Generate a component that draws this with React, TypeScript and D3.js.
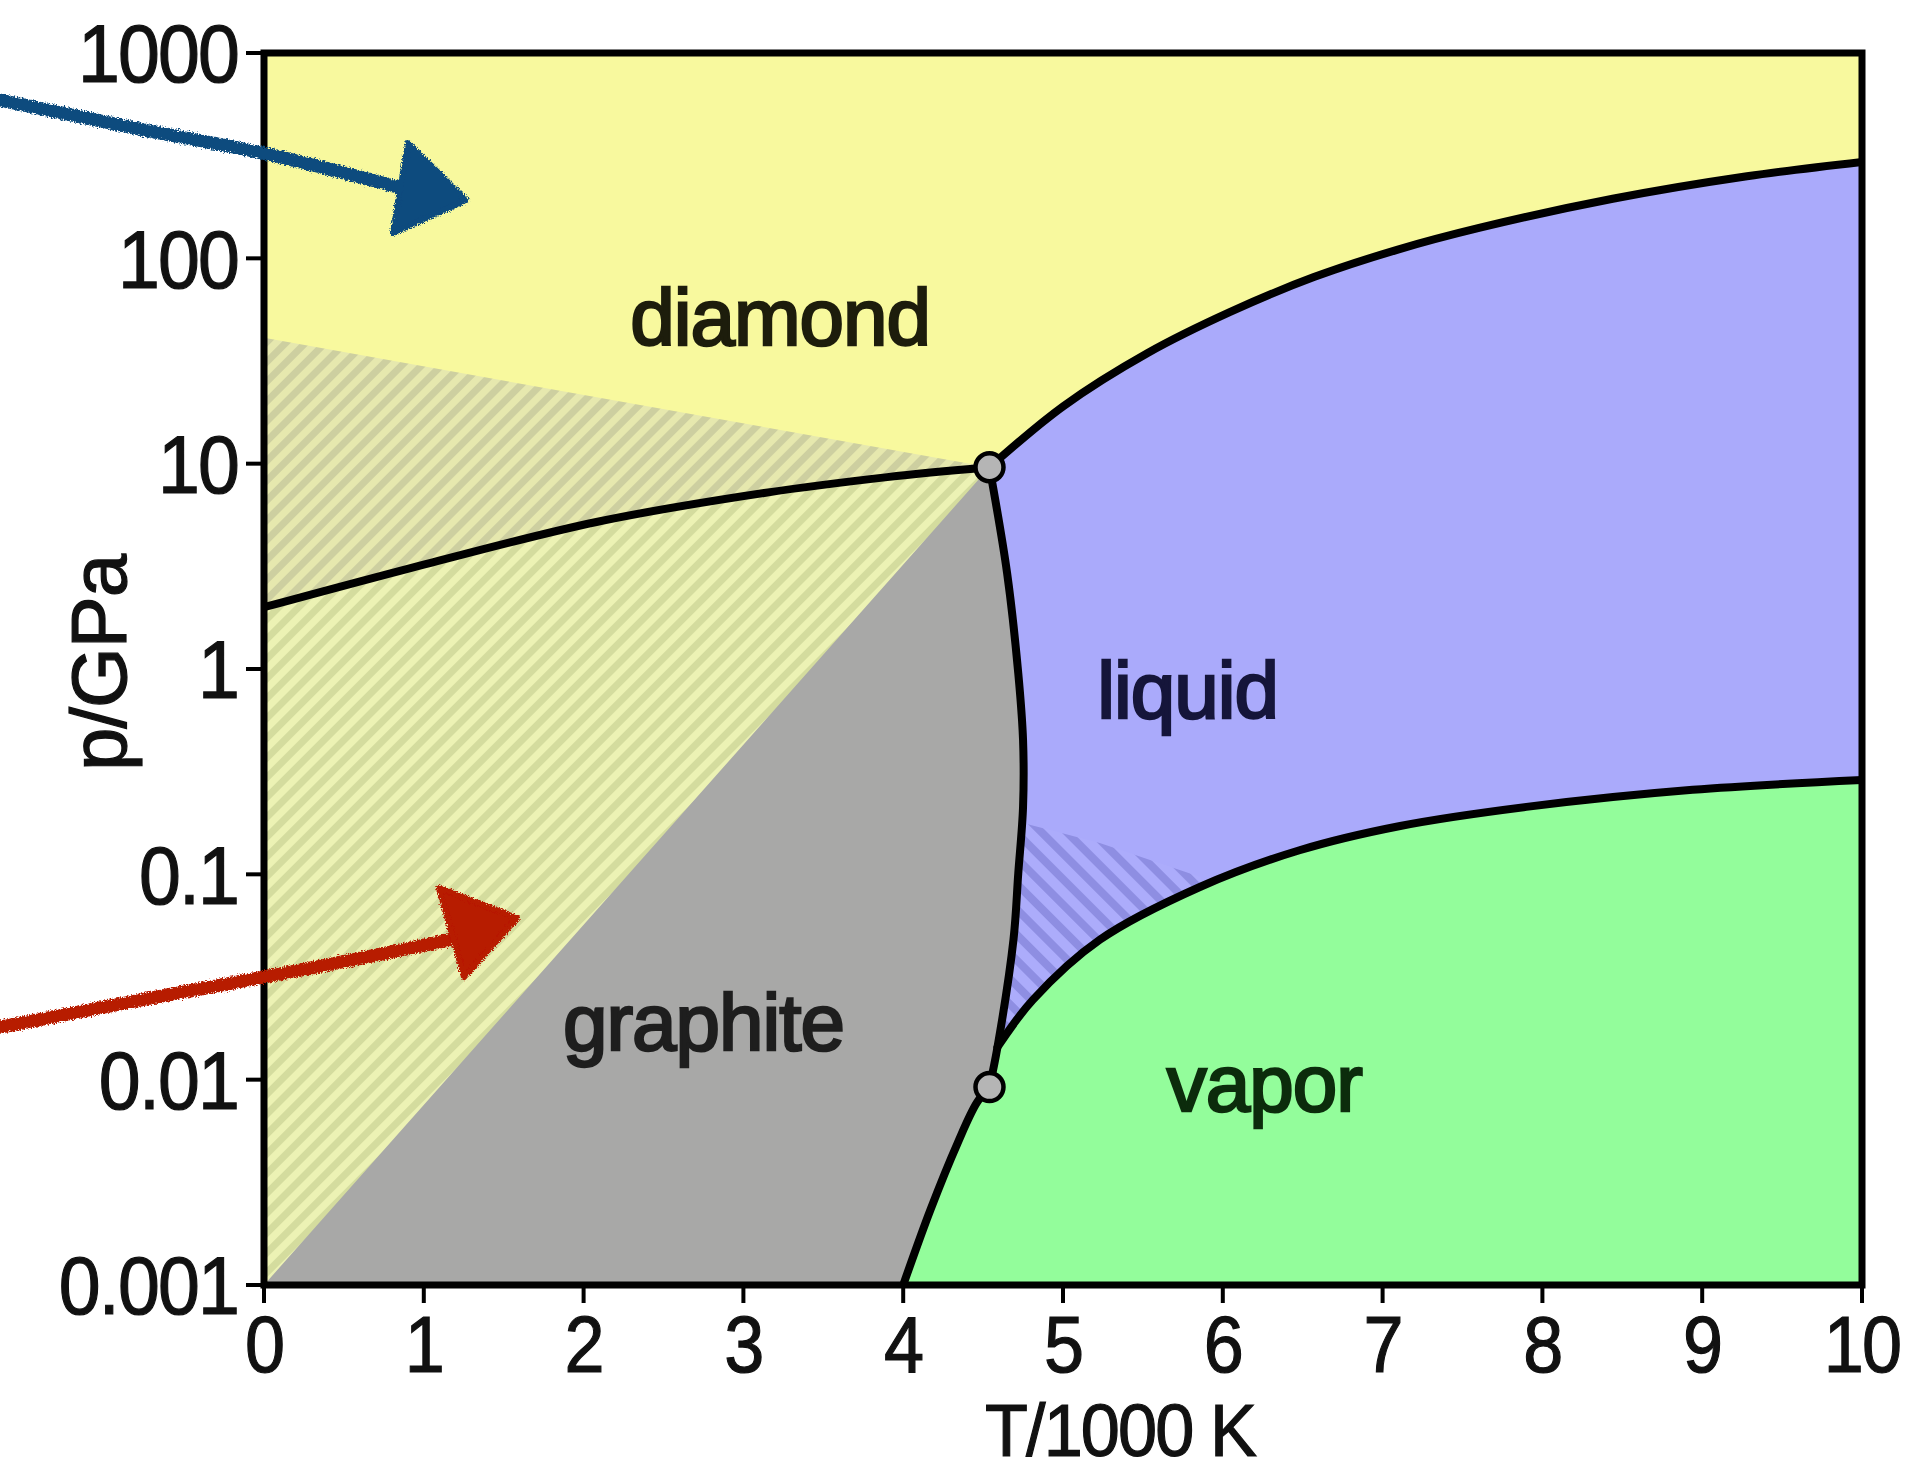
import React from 'react';
import * as d3 from 'd3';

type Pt = [number, number];

const W = 1925;
const H = 1473;
const margin = { top: 53, right: 63, bottom: 188, left: 264 };

// axes
const tempTicks = [0, 1, 2, 3, 4, 5, 6, 7, 8, 9, 10];
const pressureTicks = [1000, 100, 10, 1, 0.1, 0.01, 0.001];
const pressureLabels = ['1000', '100', '10', '1', '0.1', '0.01', '0.001'];

// phase boundaries, [T/1000 K, p/GPa]
const graphiteDiamond: Pt[] = [[0, 2.0], [1.05, 3.3], [2.08, 5.2], [3.13, 7.2], [3.9, 8.6], [4.54, 9.6]];
const diamondLiquid: Pt[] = [[4.54, 9.6], [5.0, 19], [5.53, 34.6], [6.05, 55], [6.57, 81], [7.09, 110], [7.61, 141], [8.44, 195], [9.28, 251], [10, 295]];
const graphiteLiquid: Pt[] = [[4.54, 0.0092], [4.59, 0.0144], [4.69, 0.048], [4.72, 0.101], [4.75, 0.213], [4.75, 0.45], [4.72, 0.955], [4.65, 2.94], [4.54, 9.6]];
const liquidVapor: Pt[] = [[4.59, 0.0144], [4.81, 0.0244], [5.23, 0.048], [5.86, 0.087], [6.48, 0.131], [7.11, 0.172], [7.9, 0.213], [8.94, 0.258], [10, 0.288]];
const graphiteVapor: Pt[] = [[4.0, 0.001], [4.17, 0.00232], [4.34, 0.0049], [4.46, 0.0077], [4.54, 0.0092]];
const triplePoints: Pt[] = [[4.54, 9.6], [4.54, 0.0092]];

// hatched (metastable) zones
const metastableEdge: Pt[] = [[0, 41], [4.54, 9.6]];
const metastableDiagonal: Pt[] = [[4.54, 9.6], [0, 0.001]];
const liquidHatchTop: Pt[] = [[4.6, 0.178], [4.75, 0.178], [5.23, 0.142], [5.86, 0.097], [6.2, 0.001], [4.6, 0.001]];

const regionLabels = [
  { text: 'diamond', T: 3.23, p: 38, color: '#1d1d0c' },
  { text: 'liquid', T: 5.78, p: 0.577, color: '#15153a' },
  { text: 'graphite', T: 2.75, p: 0.0139, color: '#1e1e1e' },
  { text: 'vapor', T: 6.26, p: 0.00703, color: '#0c2c0c' },
];

// hand drawn annotation arrows: shaft and head
const blueShaft: Pt[] = [[-1.652, 590], [-0.8, 430], [0.05, 318], [0.84, 222]];
const blueHead: Pt[] = [[0.901, 365], [1.264, 192], [0.807, 133]];
const redShaft: Pt[] = [[-1.652, 0.018], [-0.7, 0.025], [0.3, 0.035], [1.14, 0.0475]];
const redHead: Pt[] = [[1.095, 0.0858], [1.583, 0.0612], [1.252, 0.0316]];

const font = '"Liberation Sans", Arial, Helvetica, sans-serif';

export default function App() {
  const x = d3.scaleLinear().domain([0, 10]).range([margin.left, W - margin.right]);
  const y = d3.scaleLog().domain([0.001, 1000]).range([H - margin.bottom, margin.top]);

  const smooth = d3.line<Pt>().x(d => x(d[0])).y(d => y(d[1])).curve(d3.curveCatmullRom.alpha(0.5));
  const straight = d3.line<Pt>().x(d => x(d[0])).y(d => y(d[1]));
  const rev = (a: Pt[]) => [...a].reverse();
  const join = (parts: (string | null)[]) =>
    parts.map((p, i) => (i === 0 ? (p as string) : (p as string).replace(/^M/, 'L'))).join('') + 'Z';

  const graphiteArea = join([
    straight([[0, 0.001], [4.0, 0.001]]),
    smooth(graphiteVapor),
    smooth(graphiteLiquid),
    smooth(rev(graphiteDiamond)),
    straight([[0, 2.0], [0, 0.001]]),
  ]);
  const liquidArea = join([
    smooth(diamondLiquid),
    straight([[10, 295], [10, 0.288]]),
    smooth(rev(liquidVapor)),
    smooth(graphiteLiquid.slice(1)),
  ]);
  const vaporArea = join([
    smooth(liquidVapor),
    straight([[10, 0.288], [10, 0.001], [4.0, 0.001]]),
    smooth(graphiteVapor),
  ]);
  const hatchUpper = join([straight(metastableEdge), smooth(rev(graphiteDiamond))]);
  const hatchLower = join([smooth(graphiteDiamond), straight(metastableDiagonal)]);
  const liquidHatch = straight(liquidHatchTop) + 'Z';

  const x0 = margin.left;
  const x1 = W - margin.right;
  const y0 = margin.top;
  const y1 = H - margin.bottom;

  return (
    <svg width={W} height={H} style={{ position: 'absolute', left: 0, top: 0, background: '#fff' }}>
      <defs>
        <clipPath id="plot">
          <rect x={x0} y={y0} width={x1 - x0} height={y1 - y0} />
        </clipPath>
        <clipPath id="liquidClip">
          <path d={liquidArea} />
        </clipPath>
        <pattern id="hatchA" patternUnits="userSpaceOnUse" width={14} height={14} patternTransform="rotate(45)">
          <rect width={14} height={14} fill="#cdcfa0" />
          <rect width={7} height={14} fill="#e6e8ae" />
        </pattern>
        <pattern id="hatchB" patternUnits="userSpaceOnUse" width={14} height={14} patternTransform="rotate(45)">
          <rect width={14} height={14} fill="#d4dc9e" />
          <rect width={7} height={14} fill="#ecf2b4" />
        </pattern>
        <pattern id="hatchC" patternUnits="userSpaceOnUse" width={18} height={18} patternTransform="rotate(-45)">
          <rect width={18} height={18} fill="#acacfb" />
          <rect width={8} height={18} fill="#8e8ee2" />
        </pattern>
        <filter id="rough" filterUnits="userSpaceOnUse" x={0} y={0} width={W} height={H}>
          <feTurbulence type="fractalNoise" baseFrequency="0.7" numOctaves={2} seed={3} result="n" />
          <feDisplacementMap in="SourceGraphic" in2="n" scale={6} xChannelSelector="R" yChannelSelector="G" />
        </filter>
      </defs>

      <g clipPath="url(#plot)">
        <rect x={x0} y={y0} width={x1 - x0} height={y1 - y0} fill="#f8f99e" />
        <path d={graphiteArea} fill="#a8a8a7" />
        <path d={liquidArea} fill="#aaaafb" />
        <path d={vaporArea} fill="#93fd9b" />
        <path d={hatchUpper} fill="url(#hatchA)" />
        <path d={hatchLower} fill="url(#hatchB)" />
        <path d={liquidHatch} fill="url(#hatchC)" clipPath="url(#liquidClip)" />
        {[graphiteDiamond, diamondLiquid, graphiteLiquid, liquidVapor, graphiteVapor].map((c, i) => (
          <path key={i} d={smooth(c) as string} fill="none" stroke="#000" strokeWidth={8} strokeLinecap="round" />
        ))}
        {triplePoints.map((d, i) => (
          <circle key={i} cx={x(d[0])} cy={y(d[1])} r={14} fill="#b5b5b5" stroke="#000" strokeWidth={4.5} />
        ))}
      </g>

      {/* frame */}
      <rect x={x0} y={y0} width={x1 - x0} height={y1 - y0} fill="none" stroke="#000" strokeWidth={7} />

      {/* y axis */}
      {pressureTicks.map((t, i) => (
        <g key={t}>
          <line x1={x0 - 18} x2={x0} y1={y(t)} y2={y(t)} stroke="#000" strokeWidth={4} />
          <text transform={`translate(${x0 - 26},${y(t)}) scale(0.93,1)`} dy="0.36em" textAnchor="end"
            fontFamily={font} fontSize={81} letterSpacing={-2} fill="#111" stroke="#111" strokeWidth={1.2}>
            {pressureLabels[i]}
          </text>
        </g>
      ))}
      {/* x axis */}
      {tempTicks.map(t => (
        <g key={t}>
          <line x1={x(t)} x2={x(t)} y1={y1} y2={y1 + 18} stroke="#000" strokeWidth={4} />
          <text transform={`translate(${x(t)},1372) scale(0.9,1)`} textAnchor="middle" fontFamily={font}
            fontSize={80} letterSpacing={-2} fill="#111" stroke="#111" strokeWidth={1.2}>{t}</text>
        </g>
      ))}
      <text transform="translate(1120,1456) scale(0.95,1)" textAnchor="middle" fontFamily={font} fontSize={74}
        letterSpacing={-2} fill="#111" stroke="#111" strokeWidth={1.2}>T/1000 K</text>
      <text transform="translate(126,663) rotate(-90)" textAnchor="middle" fontFamily={font} fontSize={78}
        letterSpacing={-1} fill="#111" stroke="#111" strokeWidth={1.2}>p/GPa</text>

      {regionLabels.map(l => (
        <text key={l.text} x={x(l.T)} y={y(l.p)} textAnchor="middle" fontFamily={font} fontSize={80}
          fill={l.color} stroke={l.color} strokeWidth={2.5} letterSpacing={-1}>{l.text}</text>
      ))}

      {/* annotation arrows */}
      <g filter="url(#rough)">
        <path d={smooth(blueShaft) as string} fill="none" stroke="#0b4b7e" strokeWidth={13} strokeLinecap="round" />
        <path d={straight(blueHead) + 'Z'} fill="#0b4b7e" stroke="#0b4b7e" strokeWidth={6} strokeLinejoin="round" />
        <path d={smooth(redShaft) as string} fill="none" stroke="#b71a06" strokeWidth={13} strokeLinecap="round" />
        <path d={straight(redHead) + 'Z'} fill="#b71a06" stroke="#b71a06" strokeWidth={6} strokeLinejoin="round" />
      </g>
    </svg>
  );
}
